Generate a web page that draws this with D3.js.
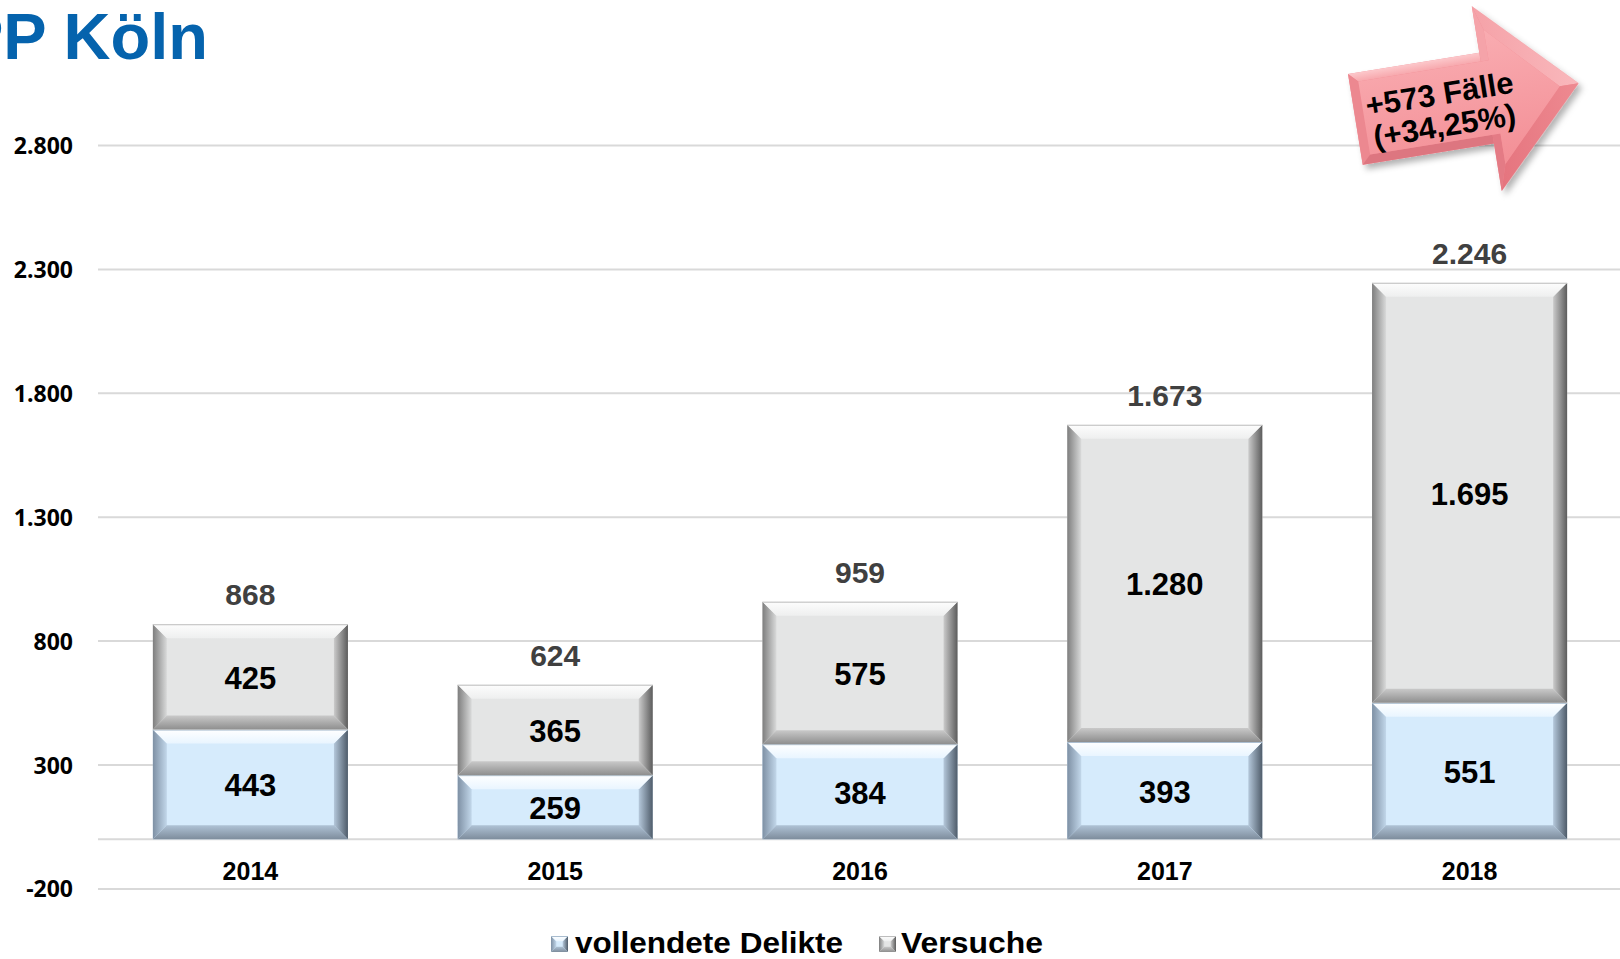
<!DOCTYPE html>
<html><head><meta charset="utf-8">
<script src="https://cdn.jsdelivr.net/npm/d3@7"></script>
<style>
html,body{margin:0;padding:0;background:#fff;overflow:hidden;}
svg{display:block;}
</style></head>
<body>
<svg id="chart" width="1620" height="959"></svg>
<script>
// ---- data ----
const years = ["2014", "2015", "2016", "2017", "2018"];
const vollendete = [443, 259, 384, 393, 551];
const versuche = [425, 365, 575, 1280, 1695];
const totals = [868, 624, 959, 1673, 2246];
const yTicks = [-200, 300, 800, 1300, 1800, 2300, 2800];
const seriesNames = ["vollendete Delikte", "Versuche"];
const titleText = "PP Köln";
const arrowLines = ["+573 Fälle", "(+34,25%)"];

const de = d3.formatLocale({decimal: ",", thousands: ".", grouping: [3], currency: ["", "€"], minus: "-"});
const fmt = de.format(",d");

const svg = d3.select("#chart");
const W = 1620;

const x = d3.scaleBand().domain(years).range([98, 1622]).paddingInner(0.36).paddingOuter(0.18);
const y = d3.scaleLinear().domain([-200, 2800]).range([888.9, 145.5]);

// ---- defs ----
const defs = svg.append("defs");
function lg(id, dir, stops) {
  const g = defs.append("linearGradient").attr("id", id);
  if (dir === "v") g.attr("x1", 0).attr("y1", 0).attr("x2", 0).attr("y2", 1);
  else g.attr("x1", 0).attr("y1", 0).attr("x2", 1).attr("y2", 0);
  stops.forEach(([o, c]) => g.append("stop").attr("offset", o).attr("stop-color", c));
}
const styles = {
  gray: {fill: "#E4E5E5", top: ["#FDFDFD", "#EEEFEF"], left: ["#7E7E7E", "#D9DADA"], right: ["#CBCBCB", "#5C5C5C"], bottom: ["#C9C9C9", "#8E8E8E"], edge: "#BDBDBD"},
  blue: {fill: "#D6EBFC", top: ["#FFFFFF", "#E9F5FF"], left: ["#7E90A4", "#C2D7EA"], right: ["#B5C8DB", "#4F5C6A"], bottom: ["#AFC2D5", "#7D8C9C"], edge: "#A8BCCF"}
};
Object.entries(styles).forEach(([k, s]) => {
  lg(k + "-top", "v", [[0, s.top[0]], [1, s.top[1]]]);
  lg(k + "-left", "h", [[0, s.left[0]], [1, s.left[1]]]);
  lg(k + "-right", "h", [[0, s.right[0]], [1, s.right[1]]]);
  lg(k + "-bottom", "v", [[0, s.bottom[0]], [1, s.bottom[1]]]);
});
lg("arrow-face", "v", [[0, "#F9ACB1"], [1, "#F38F96"]]);
lg("arrow-top", "v", [[0, "#FCC8CB"], [1, "#F7A8AD"]]);
lg("arrow-headtop", "h", [[0, "#F5A2A8"], [1, "#F9B8BC"]]);
lg("arrow-headbot", "h", [[0, "#E5747E"], [1, "#EE8A91"]]);
const sh = defs.append("filter").attr("id", "shadow").attr("x", "-20%").attr("y", "-20%").attr("width", "150%").attr("height", "150%");
sh.append("feDropShadow").attr("dx", 3).attr("dy", 5).attr("stdDeviation", 3).attr("flood-color", "#000").attr("flood-opacity", 0.3);

// ---- title ----
svg.append("text").attr("x", 208).attr("y", 59).attr("text-anchor", "end")
  .attr("font-family", "Liberation Sans, Arial, sans-serif").attr("font-weight", "bold")
  .attr("font-size", 65).attr("fill", "#0563AD").text(titleText);

// ---- grid ----
svg.append("g").selectAll("line").data(yTicks).join("line")
  .attr("x1", 98).attr("x2", W).attr("y1", d => y(d)).attr("y2", d => y(d))
  .attr("stroke", "#D9D9D9").attr("stroke-width", 2);
svg.append("line").attr("x1", 98).attr("x2", W).attr("y1", y(0)).attr("y2", y(0))
  .attr("stroke", "#D9D9D9").attr("stroke-width", 2);

svg.append("g").selectAll("text").data(yTicks).join("text")
  .attr("x", 73).attr("y", d => y(d) + 8.5).attr("text-anchor", "end")
  .attr("font-family", "Open Sans, sans-serif").attr("font-weight", 700).attr("font-size", 23)
  .attr("fill", "#000").text(d => fmt(d));

// ---- bevel rect ----
function bevelRect(g, bx, by, w, h, k) {
  const s = styles[k];
  const b = Math.min(14, h / 3);
  g.append("rect").attr("x", bx).attr("y", by).attr("width", w).attr("height", h).attr("fill", s.fill);
  const P = pts => pts.map(p => p.join(",")).join(" ");
  g.append("polygon").attr("points", P([[bx, by], [bx + b, by + b], [bx + b, by + h - b], [bx, by + h]])).attr("fill", `url(#${k}-left)`);
  g.append("polygon").attr("points", P([[bx + w, by], [bx + w, by + h], [bx + w - b, by + h - b], [bx + w - b, by + b]])).attr("fill", `url(#${k}-right)`);
  g.append("polygon").attr("points", P([[bx, by], [bx + w, by], [bx + w - b, by + b], [bx + b, by + b]])).attr("fill", `url(#${k}-top)`);
  g.append("polygon").attr("points", P([[bx, by + h], [bx + b, by + h - b], [bx + w - b, by + h - b], [bx + w, by + h]])).attr("fill", `url(#${k}-bottom)`);
  g.append("line").attr("x1", bx).attr("x2", bx + w).attr("y1", by + 0.5).attr("y2", by + 0.5).attr("stroke", s.edge).attr("stroke-width", 1);
}

const bars = svg.append("g");
years.forEach((yr, i) => {
  const bx = x(yr), w = x.bandwidth();
  const v1 = vollendete[i], v2 = versuche[i];
  bevelRect(bars, bx, y(v1), w, y(0) - y(v1), "blue");
  bevelRect(bars, bx, y(v1 + v2), w, y(v1) - y(v1 + v2), "gray");
});

// ---- labels ----
const lab = svg.append("g").attr("font-family", "Liberation Sans, Arial, sans-serif").attr("font-weight", "bold").attr("text-anchor", "middle");
years.forEach((yr, i) => {
  const cx = x(yr) + x.bandwidth() / 2;
  const v1 = vollendete[i], v2 = versuche[i];
  lab.append("text").attr("x", cx).attr("y", (y(0) + y(v1)) / 2 + 12).attr("font-size", 31).attr("fill", "#000").text(fmt(v1));
  lab.append("text").attr("x", cx).attr("y", (y(v1) + y(v1 + v2)) / 2 + 12).attr("font-size", 31).attr("fill", "#000").text(fmt(v2));
  lab.append("text").attr("x", cx).attr("y", y(totals[i]) - 19).attr("font-size", 30).attr("fill", "#404040").text(fmt(totals[i]));
  lab.append("text").attr("x", cx).attr("y", 880).attr("font-size", 25).attr("fill", "#000").text(yr);
});

// ---- legend ----
const leg = svg.append("g");
const legItems = [
  {name: seriesNames[0], k: "blue", mx: 551, tx: 575, tl: 268},
  {name: seriesNames[1], k: "gray", mx: 879, tx: 901, tl: 142}
];
legItems.forEach(it => {
  bevelRect(leg, it.mx, 936, 17, 16, it.k);
  leg.append("text").attr("x", it.tx).attr("y", 953)
    .attr("font-family", "Liberation Sans, Arial, sans-serif").attr("font-weight", "bold").attr("font-size", 29)
    .attr("textLength", it.tl).attr("lengthAdjust", "spacingAndGlyphs").attr("fill", "#000").text(it.name);
});

// ---- arrow ----
const ag = svg.append("g").attr("transform", "translate(1348,74) rotate(-9.2)");
const P = pts => pts.map(p => p.join(",")).join(" ");
const outline = [[0, 0], [133, 0], [133, -47], [226, 46], [133, 140], [133, 92], [0, 92]];
ag.append("polygon").attr("points", P(outline)).attr("fill", "#F08A92").attr("filter", "url(#shadow)");
const bb = 9;
ag.append("polygon").attr("points", P([[0, 0], [133, 0], [133, bb], [bb, bb]])).attr("fill", "url(#arrow-top)");
ag.append("polygon").attr("points", P([[0, 0], [bb, bb], [bb, 92 - bb], [0, 92]])).attr("fill", "#EC8890");
ag.append("polygon").attr("points", P([[0, 92], [bb, 92 - bb], [133, 92 - bb], [133, 92]])).attr("fill", "#DD7680");
ag.append("polygon").attr("points", P([[133, -47], [226, 46], [207, 46], [141, -22]])).attr("fill", "url(#arrow-headtop)");
ag.append("polygon").attr("points", P([[226, 46], [133, 140], [141, 114], [207, 46]])).attr("fill", "url(#arrow-headbot)");
ag.append("polygon").attr("points", P([[133, -47], [141, -22], [141, bb], [133, bb]])).attr("fill", "#F5A3A9");
ag.append("polygon").attr("points", P([[133, 140], [141, 114], [141, 92 - bb], [133, 92 - bb]])).attr("fill", "#E47B85");
ag.append("polygon").attr("points", P([[bb, bb], [141, bb], [141, -22], [207, 46], [141, 114], [141, 92 - bb], [bb, 92 - bb]])).attr("fill", "url(#arrow-face)");
ag.selectAll("text.al").data(arrowLines).join("text").attr("class", "al")
  .attr("x", 87).attr("y", (d, i) => 45 + i * 32).attr("text-anchor", "middle")
  .attr("font-family", "Liberation Sans, Arial, sans-serif").attr("font-weight", "bold").attr("font-size", 31)
  .attr("fill", "#000").text(d => d);
</script>
</body></html>
